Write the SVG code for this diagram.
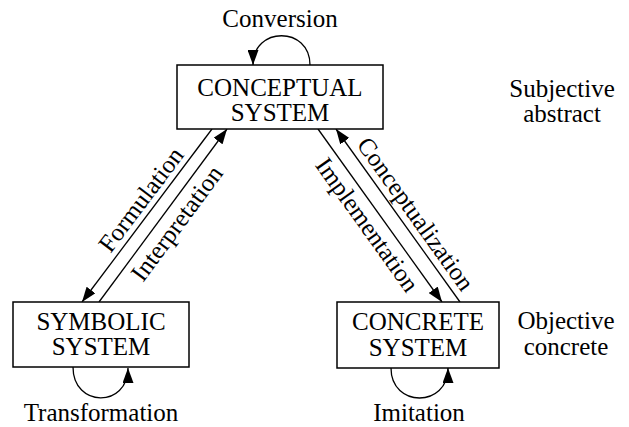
<svg xmlns="http://www.w3.org/2000/svg" width="629" height="427" viewBox="0 0 629 427">
  <style>
    .box { fill: #ffffff; stroke: #000000; stroke-width: 1.5; }
    .label { font-family: "Liberation Serif", "Times New Roman", serif; font-size: 25px; fill: #000000; text-anchor: middle; }
    .edge { fill: none; stroke: #000000; stroke-width: 1.3; marker-end: url(#head); }
  </style>
  <defs>
    <marker id="head" viewBox="0 0 15 11" refX="15" refY="5.5" markerWidth="15" markerHeight="11" markerUnits="userSpaceOnUse" orient="auto">
      <path d="M0,0 L15,5.5 L0,11 Z" fill="#000000"/>
    </marker>
  </defs>
  <rect width="629" height="427" fill="#ffffff"/>

  <!-- connectors between the three systems and the self-loops -->
  <g id="connectors">
    <line class="edge" x1="212" y1="129" x2="82" y2="302"/>
    <line class="edge" x1="99" y1="302" x2="227" y2="129"/>
    <line class="edge" x1="318" y1="129" x2="442" y2="302"/>
    <line class="edge" x1="460" y1="302" x2="336" y2="129"/>
    <path class="edge" d="M310,65 C310,26 253,26 253,65"/>
    <path class="edge" d="M73,367 C73,408 128,408 128,368"/>
    <path class="edge" d="M391,368 C391,408 448,408 448,368"/>

    <text class="label" transform="translate(147.6,204.7) rotate(-53)">Formulation</text>
    <text class="label" transform="translate(183.5,228.2) rotate(-53.5)">Interpretation</text>
    <text class="label" transform="translate(360.5,229.5) rotate(54.4)">Implementation</text>
    <text class="label" transform="translate(408.9,218.7) rotate(54.4)">Conceptualization</text>
    <text class="label" x="280" y="27">Conversion</text>
    <text class="label" x="101" y="421">Transformation</text>
    <text class="label" x="419" y="421">Imitation</text>
  </g>

  <g id="conceptual">
    <rect class="box" x="177" y="65" width="206" height="64"/>
    <text class="label" x="280" y="96">CONCEPTUAL</text>
    <text class="label" x="280" y="121">SYSTEM</text>
  </g>

  <g id="symbolic">
    <rect class="box" x="13" y="302" width="176" height="65"/>
    <text class="label" x="101" y="330">SYMBOLIC</text>
    <text class="label" x="101" y="355">SYSTEM</text>
  </g>

  <g id="concrete">
    <rect class="box" x="337" y="302" width="162" height="66"/>
    <text class="label" x="418" y="330">CONCRETE</text>
    <text class="label" x="418" y="356">SYSTEM</text>
  </g>

  <g id="level-subjective">
    <text class="label" x="562" y="97">Subjective</text>
    <text class="label" x="562" y="122">abstract</text>
  </g>

  <g id="level-objective">
    <text class="label" x="566" y="329">Objective</text>
    <text class="label" x="566" y="355">concrete</text>
  </g>
</svg>
